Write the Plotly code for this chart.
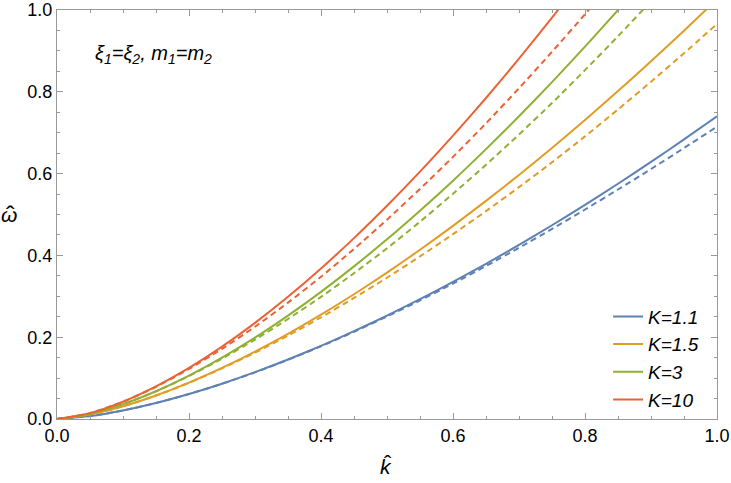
import plotly.graph_objects as go

k = [0.0, 0.05, 0.1, 0.15, 0.2, 0.25, 0.3, 0.35, 0.4, 0.45, 0.5,
     0.55, 0.6, 0.65, 0.7, 0.75, 0.8, 0.85, 0.9, 0.95, 1.0]

# solid curves
w_solid_11 = [0.0, 0.0071, 0.0209, 0.0391, 0.0611, 0.0863, 0.1145, 0.1454, 0.1789, 0.2147, 0.2527,
              0.2930, 0.3352, 0.3795, 0.4257, 0.4737, 0.5236, 0.5752, 0.6285, 0.6835, 0.7400]
w_solid_15 = [0.0, 0.0108, 0.0310, 0.0574, 0.0889, 0.1248, 0.1647, 0.2081, 0.2550, 0.3050, 0.3579,
              0.4137, 0.4722, 0.5333, 0.5968, 0.6628, 0.7312, 0.8018, 0.8745, 0.9494, 1.0264]
w_solid_3 = [0.0, 0.0124, 0.0363, 0.0679, 0.1061, 0.1500, 0.1990, 0.2528, 0.3109, 0.3732, 0.4393,
             0.5093, 0.5827, 0.6598, 0.7401, 0.8236, 0.9103, 0.9999, 1.0925]
w_solid_10 = [0.0, 0.0144, 0.0423, 0.0797, 0.1248, 0.1768, 0.2350, 0.2988, 0.3680, 0.4422, 0.5213,
              0.6048, 0.6928, 0.7849, 0.8810, 0.9812, 1.0852]

# dashed curves
w_dash_11 = [0.0, 0.0071, 0.0209, 0.0391, 0.0610, 0.0861, 0.1141, 0.1448, 0.1779, 0.2132, 0.2506,
             0.2900, 0.3311, 0.3740, 0.4186, 0.4646, 0.5122, 0.5611, 0.6112, 0.6625, 0.7148]
w_dash_15 = [0.0, 0.0108, 0.0310, 0.0573, 0.0885, 0.1236, 0.1622, 0.2039, 0.2486, 0.2959, 0.3454,
             0.3976, 0.4519, 0.5082, 0.5670, 0.6277, 0.6910, 0.7569, 0.8247, 0.8943, 0.9658]
w_dash_3 = [0.0, 0.0124, 0.0362, 0.0676, 0.1050, 0.1475, 0.1940, 0.2445, 0.2985, 0.3564, 0.4173,
            0.4823, 0.5507, 0.6215, 0.6957, 0.7725, 0.8530, 0.9359, 1.0215, 1.1097]
w_dash_10 = [0.0, 0.0143, 0.0421, 0.0787, 0.1223, 0.1715, 0.2256, 0.2845, 0.3478, 0.4157, 0.4874,
             0.5625, 0.6408, 0.7229, 0.8088, 0.8978, 0.9897, 1.0854]

labels = ["K=1.1", "K=1.5", "K=3", "K=10"]
colors = ["#5E81B5", "#E19C24", "#8FB032", "#EB6235"]
solids = [w_solid_11, w_solid_15, w_solid_3, w_solid_10]
dashes = [w_dash_11, w_dash_15, w_dash_3, w_dash_10]

fig = go.Figure()
for lab, c, ys in zip(labels, colors, solids):
    fig.add_trace(go.Scatter(x=k[:len(ys)], y=ys, mode="lines", name=f"<i>{lab}</i>",
                             line=dict(color=c, width=2, shape="spline", smoothing=0.6)))
for c, ys in zip(colors, dashes):
    fig.add_trace(go.Scatter(x=k[:len(ys)], y=ys, mode="lines", showlegend=False,
                             line=dict(color=c, width=2, dash="6px,4px", shape="spline", smoothing=0.6)))

FONT = "Liberation Sans, Arial, sans-serif"
axis_common = dict(
    range=[0, 1], showgrid=False, zeroline=False, showline=True, linecolor="#999999",
    linewidth=1, mirror="ticks", ticks="inside", ticklen=6, tickcolor="#999999", tickwidth=1,
    dtick=0.2, tickformat=".1f", tickfont=dict(family=FONT, size=18, color="black"),
    minor=dict(ticks="inside", ticklen=3, dtick=0.05, tickcolor="#999999", tickwidth=1),
    automargin=False,
)
fig.update_xaxes(**axis_common)
fig.update_yaxes(**axis_common)

fig.update_layout(
    width=731, height=483,
    margin=dict(l=57, r=14, t=10, b=64),
    plot_bgcolor="white", paper_bgcolor="white",
    font=dict(family=FONT, size=18, color="black"),
    legend=dict(x=0.835, y=0.297, xanchor="left", yanchor="top",
                bgcolor="rgba(255,255,255,0)", font=dict(family=FONT, size=19),
                itemwidth=30, tracegroupgap=0),
    annotations=[
        dict(text="<i>ξ<sub>1</sub>=ξ<sub>2</sub>, m<sub>1</sub>=m<sub>2</sub></i>",
             xref="paper", yref="paper", x=(93 - 57) / 660, y=0.89, xanchor="left", yanchor="middle",
             showarrow=False, font=dict(family=FONT, size=20)),
        dict(text="<i>ω</i>", xref="paper", yref="paper", x=(9.5 - 57) / 660, y=(419 - 215) / 409,
             xanchor="center", yanchor="middle", showarrow=False, font=dict(family=FONT, size=21)),
        dict(text="ˆ", xref="paper", yref="paper", x=(10.5 - 57) / 660, y=(419 - 215) / 409,
             xanchor="center", yanchor="middle", showarrow=False, font=dict(family=FONT, size=26)),
        dict(text="<i>k</i>", xref="paper", yref="paper", x=(386 - 57) / 660, y=(419 - 466) / 409,
             xanchor="center", yanchor="middle", showarrow=False, font=dict(family=FONT, size=21)),
        dict(text="ˆ", xref="paper", yref="paper", x=(388 - 57) / 660, y=(419 - 463) / 409,
             xanchor="center", yanchor="middle", showarrow=False, font=dict(family=FONT, size=22)),
    ],
)

fig.write_html("out.html", config={"displayModeBar": False},
               post_script="document.body.style.margin='0';")
